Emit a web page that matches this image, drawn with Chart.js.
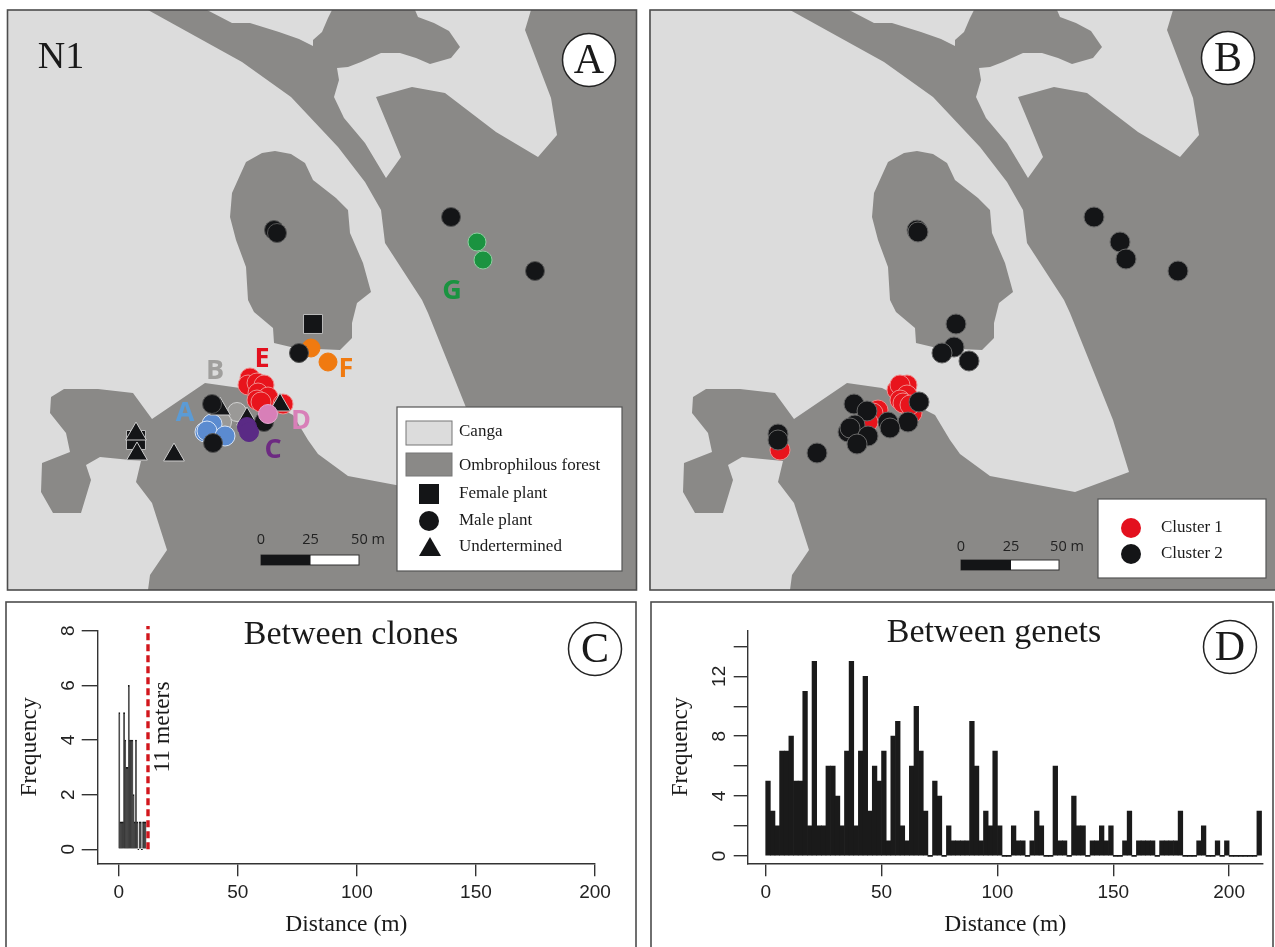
<!DOCTYPE html>
<html>
<head>
<meta charset="utf-8">
<title>N1</title>
<script src="https://cdn.jsdelivr.net/npm/chart.js@4"></script>
<style>
    html, body { margin: 0; padding: 0; background: #fff; overflow: hidden; }
    canvas { position: absolute; display: block; }
</style>
</head>
<body>
<canvas id="mapA" width="640" height="600" style="left:0;top:0"></canvas>
<canvas id="mapB" width="633" height="600" style="left:642px;top:0"></canvas>
<canvas id="histC" width="640" height="347" style="left:0;top:600px"></canvas>
<canvas id="histD" width="630" height="347" style="left:645px;top:600px"></canvas>
<script>
// forest outline, same for panels A and B
const forestMain = [
    [148,10],[207,10],[232,23],[250,23],[279,32],[299,39],[313,46],[313,40],[322,32],[328,18],[332,10],
    [415,10],[418,17],[434,23],[449,31],[460,47],[451,58],[430,64],[416,58],[400,53],[381,53],[361,62],
    [348,67],[337,68],[339,80],[334,97],[344,118],[365,143],[386,178],[401,157],[376,97],[412,87],[445,93],
    [496,132],[538,157],[557,135],[551,98],[525,30],[531,10],[640,10],[640,590],[148,590],[150,575],[167,550],
    [152,503],[136,482],[141,461],[100,457],[86,465],[91,480],[81,513],[53,513],[41,492],[42,463],[70,452],
    [66,433],[50,413],[51,397],[64,389],[98,389],[133,393],[152,419],[205,383],[240,388],[293,415],[308,440],
    [318,454],[348,476],[433,492],[487,472],[471,420],[455,380],[428,313],[422,300],[385,243],[381,210],
    [365,182],[338,147],[291,97],[242,62]
];
const forestIsland = [
    [275,151],[262,153],[246,162],[241,173],[232,193],[230,217],[236,240],[246,267],[248,300],[254,312],
    [273,328],[274,343],[295,348],[340,350],[352,338],[352,323],[357,303],[371,292],[363,263],[350,233],
    [348,210],[336,198],[313,180],[305,163],[291,154]
];

// panel A plants
const cloneB = [[237,412],[222,422]];
const cloneE = [[250,378],[248,385],[257,383],[264,385],[258,393],[268,397],[257,400],[261,402],[283,404]];
const cloneA = [[212,424],[205,432],[207,431],[225,436]];
const cloneF = [[311,348],[328,362]];
const cloneG = [[477,242],[483,260]];
const cloneC = [[247,427],[249,432]];
const cloneD = [[268,414]];
const femaleA = [[313,324],[136,440]];
const undeterminedA = [[220,409],[247,419],[280,405],[136,434],[137,454],[174,455]];
const maleA = [[274,230],[277,233],[451,217],[535,271],[299,353],[212,404],[213,443],[264,422]];

// panel B plants
const cluster1 = [[258,388],[255,390],[265,385],[258,385],[265,395],[258,400],[270,413],[261,403],[268,405],[236,410],[231,413],[226,422],[138,450]];
const cluster2 = [[314,324],[312,347],[300,353],[327,361],[277,402],[266,422],[246,422],[248,428],[212,404],[225,411],[213,425],[206,432],[208,428],[226,436],[215,444],[175,453],[136,434],[136,440],[275,230],[276,232],[452,217],[478,242],[484,259],[536,271]];

// histogram counts per bin
const clonesBinWidth = 0.5;
const clonesCounts = [5,1,1,1,5,4,3,3,6,4,4,4,2,1,4,1,0,1,1,0,1,1,1];
const genetsBinWidth = 2;
const genetsCounts = [
    5,3,2,7,7,8,5,5,11,2,13,2,2,6,6,4,2,7,13,2,7,12,3,6,5,7,1,8,9,2,1,6,10,7,3,0,5,4,0,2,1,1,1,1,9,6,1,3,2,7,2,0,0,
    2,1,1,0,1,3,2,0,0,6,1,1,0,4,2,2,0,1,1,2,1,2,0,0,1,3,0,1,1,1,1,0,1,1,1,1,3,0,0,0,1,2,0,0,1,0,1,0,0,0,0,0,0,3
];
const xTicks = [0, 50, 100, 150, 200];
const clonesYTicks = [0, 2, 4, 6, 8];
const genetsYTicks = [0, 2, 4, 6, 8, 10, 12, 14];
const genetsYLabels = [0, 4, 8, 12];
const cutoffLine = [{x: 12.3, y: 0}, {x: 12.3, y: 8.17}];

const SERIF = '"Liberation Serif", serif';
const SANS = '"Liberation Sans", sans-serif';
const CANGA = '#dcdcdc';
const FOREST = '#8a8987';
const BLACK = '#141517';
const FRAME = '#4d4d4d';

Chart.defaults.animation = false;
Chart.defaults.events = [];
Chart.defaults.plugins.legend.display = false;
Chart.defaults.plugins.tooltip.enabled = false;

function toPoints(list) {
    return list.map(p => ({x: p[0], y: p[1]}));
}

function shape(list) {
    return {
        data: toPoints(list), showLine: true, fill: 'shape', backgroundColor: FOREST,
        borderColor: FOREST, borderWidth: 0, pointRadius: 0, order: 100
    };
}

// layers are listed bottom to top
function plants(list, color, edge, style, radius) {
    return {
        data: toPoints(list), showLine: false, pointStyle: style, pointRadius: radius,
        pointBackgroundColor: color, pointBorderColor: edge, pointBorderWidth: 1
    };
}

function text(ctx, str, x, y, font, color, rotate) {
    ctx.save();
    ctx.translate(x, y);
    if (rotate) ctx.rotate(rotate);
    ctx.font = font;
    ctx.fillStyle = color || '#1a1a1a';
    ctx.textAlign = 'center';
    ctx.textBaseline = 'middle';
    ctx.fillText(str, 0, 0);
    ctx.restore();
}

function leftText(ctx, str, x, y, font) {
    ctx.save();
    ctx.font = font;
    ctx.fillStyle = '#1a1a1a';
    ctx.textAlign = 'left';
    ctx.textBaseline = 'middle';
    ctx.fillText(str, x, y);
    ctx.restore();
}

function badge(ctx, letter, x, y) {
    ctx.save();
    ctx.beginPath();
    ctx.arc(x, y, 26.5, 0, Math.PI * 2);
    ctx.fillStyle = '#fff';
    ctx.fill();
    ctx.lineWidth = 1.5;
    ctx.strokeStyle = '#222';
    ctx.stroke();
    ctx.restore();
    text(ctx, letter, x, y + 2, '42px ' + SERIF, '#1a1a1a');
}

function scaleBar(ctx, x0, x1, x2, y, labelY, labelX) {
    ctx.save();
    ctx.fillStyle = '#fff';
    ctx.fillRect(x0, y, x2 - x0, 10);
    ctx.strokeStyle = '#333';
    ctx.lineWidth = 1;
    ctx.strokeRect(x0, y, x2 - x0, 10);
    ctx.fillStyle = BLACK;
    ctx.fillRect(x0, y, x1 - x0, 10);
    ctx.restore();
    const font = '14.5px "Open Sans", sans-serif';
    text(ctx, '0', x0, labelY, font, '#222');
    text(ctx, '25', x1, labelY, font, '#222');
    text(ctx, '50 m', labelX, labelY, font, '#222');
}

function whiteBox(ctx, x, y, w, h) {
    ctx.save();
    ctx.fillStyle = '#fff';
    ctx.strokeStyle = '#555';
    ctx.lineWidth = 1.2;
    ctx.fillRect(x, y, w, h);
    ctx.strokeRect(x, y, w, h);
    ctx.restore();
}

function dot(ctx, x, y, r, color) {
    ctx.save();
    ctx.fillStyle = color;
    ctx.beginPath();
    ctx.arc(x, y, r, 0, Math.PI * 2);
    ctx.fill();
    ctx.restore();
}

function frame(ctx, x, y, w, h) {
    ctx.save();
    ctx.strokeStyle = FRAME;
    ctx.lineWidth = 1.6;
    ctx.strokeRect(x, y, w, h);
    ctx.restore();
}

function swatch(ctx, x, y, w, h, color) {
    ctx.save();
    ctx.fillStyle = color;
    ctx.strokeStyle = '#777';
    ctx.lineWidth = 1;
    ctx.fillRect(x, y, w, h);
    ctx.strokeRect(x, y, w, h);
    ctx.restore();
}

function drawMapA(chart) {
    const ctx = chart.ctx;
    const bold = 'bold 27px "Open Sans", sans-serif';
    text(ctx, 'N1', 61, 58, '38px ' + SERIF);
    badge(ctx, 'A', 589, 60);
    text(ctx, 'E', 262, 359, bold, '#e3101e');
    text(ctx, 'B', 215, 371, bold, '#a09f9d');
    text(ctx, 'A', 185, 413, bold, '#5b9bd5');
    text(ctx, 'D', 301, 421, bold, '#d87fb8');
    text(ctx, 'C', 273, 450, bold, '#6d2a82');
    text(ctx, 'F', 346, 369, bold, '#f07a10');
    text(ctx, 'G', 452, 291, bold, '#1a9340');
    scaleBar(ctx, 261, 310.5, 359, 555, 540, 368);
    // legend
    whiteBox(ctx, 397, 407, 225, 164);
    swatch(ctx, 406, 421, 46, 24, CANGA);
    swatch(ctx, 406, 453, 46, 23, FOREST);
    ctx.fillStyle = BLACK;
    ctx.fillRect(419, 484, 20, 20);
    dot(ctx, 429, 521, 10, BLACK);
    ctx.beginPath();
    ctx.moveTo(430, 537);
    ctx.lineTo(441, 556);
    ctx.lineTo(419, 556);
    ctx.closePath();
    ctx.fill();
    const font = '17px ' + SERIF;
    leftText(ctx, 'Canga', 459, 432, font);
    leftText(ctx, 'Ombrophilous forest', 459, 466, font);
    leftText(ctx, 'Female plant', 459, 494, font);
    leftText(ctx, 'Male plant', 459, 521, font);
    leftText(ctx, 'Undertermined', 459, 547, font);
    frame(ctx, 7.5, 10, 629, 580);
}

function drawMapB(chart) {
    const ctx = chart.ctx;
    badge(ctx, 'B', 586, 58);
    scaleBar(ctx, 319, 369, 417, 560, 547, 425);
    whiteBox(ctx, 456, 499, 168, 79);
    dot(ctx, 489, 528, 10, '#e3101e');
    dot(ctx, 489, 554, 10, BLACK);
    const font = '17px ' + SERIF;
    leftText(ctx, 'Cluster 1', 519, 528, font);
    leftText(ctx, 'Cluster 2', 519, 554, font);
    frame(ctx, 8, 10, 640, 580);
}

function makeMap(id, datasets, xMax, draw) {
    new Chart(document.getElementById(id), {
        type: 'scatter',
        data: {datasets: datasets},
        options: {
            responsive: false,
            layout: {autoPadding: false, padding: {left: 7, top: 10, right: document.getElementById(id).width - xMax, bottom: 10}},
            scales: {
                x: {type: 'linear', min: 7, max: xMax, display: false},
                y: {type: 'linear', min: 10, max: 590, reverse: true, display: false}
            }
        },
        plugins: [{
            id: 'mapBackground',
            beforeDatasetsDraw(chart) {
                const a = chart.chartArea;
                chart.ctx.fillStyle = CANGA;
                chart.ctx.fillRect(a.left, a.top, a.width, a.height);
            }
        }, {id: 'mapNotes', afterDatasetsDraw: draw}]
    });
}

function layered(layers) {
    const outlines = [shape(forestMain), shape(forestIsland)];
    layers.forEach((layer, i) => { layer.order = layers.length - i; });
    return outlines.concat(layers);
}

makeMap('mapA', layered([
    plants(cloneB, '#9a9997', '#d2d2d2', 'circle', 9.5),
    plants(cloneE, '#e8141c', '#f08a8a', 'circle', 10),
    plants(cloneA, '#5b8bd0', '#d5e2f4', 'circle', 10),
    plants(cloneF, '#f07a10', '#f07a10', 'circle', 9),
    plants(cloneG, '#1a9340', '#8ccf9f', 'circle', 9),
    plants(femaleA, BLACK, '#bbb', 'rect', 13.4),
    plants(undeterminedA, BLACK, '#ccc', 'triangle', 12),
    plants(maleA, BLACK, '#555', 'circle', 9.5),
    plants(cloneC, '#5a2a85', '#5a2a85', 'circle', 9.5),
    plants(cloneD, '#d87fb8', '#e3a5cf', 'circle', 9.5)
]), 636.5, drawMapA);

makeMap('mapB', layered([
    plants(cluster1, '#e8141c', '#f08a8a', 'circle', 10),
    plants(cluster2, BLACK, '#666', 'circle', 10)
]), 633, drawMapB);

// axis box sizes keep the plot area where the reference has it
function makeHist(id, cfg) {
    const datasets = [{
        data: cfg.counts.map((c, i) => ({x: (i + 0.5) * cfg.binWidth, y: c})),
        backgroundColor: '#1a1a1a', borderColor: '#1a1a1a', borderWidth: cfg.barEdge,
        barPercentage: 1, categoryPercentage: 1, minBarLength: 1, order: 2
    }].concat(cfg.extra || []);
    new Chart(document.getElementById(id), {
        type: 'bar',
        data: {datasets: datasets},
        options: {
            responsive: false,
            layout: {autoPadding: false, padding: {left: 0, top: 30.7, right: cfg.padRight, bottom: 0}},
            scales: {
                x: {
                    type: 'linear', min: cfg.xMin, max: cfg.xMax, offset: false,
                    afterBuildTicks: scale => { scale.ticks = xTicks.map(v => ({value: v})); },
                    afterFit: scale => { scale.height = 83.8; },
                    border: {color: '#333', width: 1.4},
                    grid: {offset: false, drawOnChartArea: false, color: '#333', lineWidth: 1.4, tickLength: 13},
                    ticks: {autoSkip: false, maxRotation: 0, color: '#222', padding: 5, font: {family: SANS, size: 19}},
                    title: {display: true, text: 'Distance (m)', color: '#1a1a1a', padding: {top: 0, bottom: 8}, font: {family: SERIF, size: 23.5}}
                },
                y: {
                    type: 'linear', min: cfg.yMin, max: cfg.yMax,
                    afterBuildTicks: scale => { scale.ticks = cfg.yTicks.map(v => ({value: v})); },
                    afterFit: scale => { scale.width = cfg.axisLeft; },
                    border: {color: '#333', width: 1.4},
                    grid: {drawOnChartArea: false, color: '#333', lineWidth: 1.4, tickLength: cfg.yTickLength},
                    ticks: {
                        autoSkip: false, minRotation: 90, maxRotation: 90, crossAlign: 'center', color: '#222',
                        padding: cfg.yPad, font: {family: SANS, size: 19},
                        callback: v => (cfg.yLabels.includes(v) ? String(v) : '')
                    },
                    title: {display: true, text: 'Frequency', color: '#1a1a1a', padding: {top: cfg.yTitlePad, bottom: 0}, font: {family: SERIF, size: 23.5}}
                }
            }
        },
        plugins: [{id: 'histNotes', afterDraw: cfg.draw}]
    });
}

makeHist('histC', {
    counts: clonesCounts, binWidth: clonesBinWidth, barEdge: 1, xMin: -8.82, xMax: 200, yMin: -0.51, yMax: 8,
    yTicks: clonesYTicks, yLabels: clonesYTicks, axisLeft: 97.7, padRight: 45, yTickLength: 16, yPad: 8, yTitlePad: 16,
    extra: [{
        type: 'line', data: cutoffLine, borderColor: '#d2161c', borderWidth: 3.4, borderDash: [7, 4],
        pointRadius: 0, clip: false, order: 1
    }],
    draw(chart) {
        const ctx = chart.ctx;
        text(ctx, 'Between clones', 351, 35, '34px ' + SERIF);
        text(ctx, '11 meters', 163, 127, '23.5px ' + SERIF, '#1a1a1a', -Math.PI / 2);
        badge(ctx, 'C', 595, 49);
        frame(ctx, 6, 2, 630, 360);
    }
});

makeHist('histD', {
    counts: genetsCounts, binWidth: genetsBinWidth, barEdge: 0, xMin: -7.77, xMax: 214.5, yMin: -0.49, yMax: 15.05,
    yTicks: genetsYTicks, yLabels: genetsYLabels, axisLeft: 102.7, padRight: 12.3, yTickLength: 14, yPad: 3.5, yTitlePad: 22,
    draw(chart) {
        const ctx = chart.ctx;
        text(ctx, 'Between genets', 349, 33, '34px ' + SERIF);
        badge(ctx, 'D', 585, 47);
        frame(ctx, 6, 2, 622, 360);
    }
});
</script>
</body>
</html>
